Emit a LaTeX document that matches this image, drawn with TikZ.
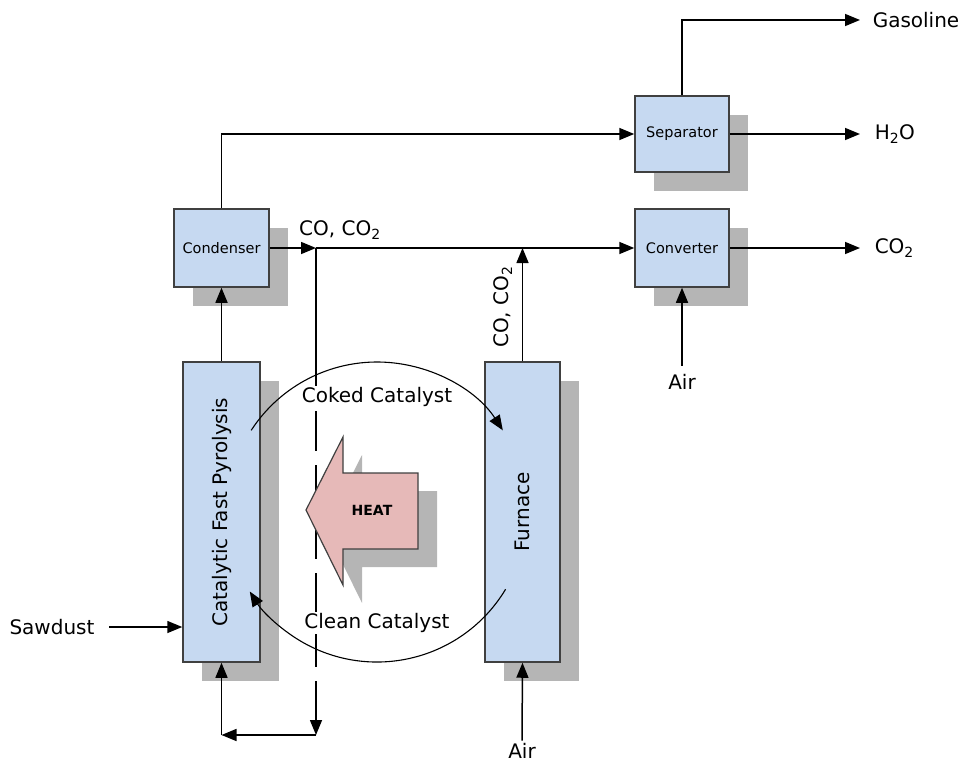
\documentclass[tikz,border=0pt]{standalone}
\usepackage{fontspec}
\usepackage{graphicx}
\setmainfont{DejaVu Sans}
\usetikzlibrary{arrows.meta, shadows}

\definecolor{boxblue}{HTML}{C6D9F1}
\definecolor{heatpink}{HTML}{E6B9B8}
\definecolor{shadowgray}{HTML}{B5B5B5}
\definecolor{edgegray}{HTML}{404040}

\begin{document}
\begin{tikzpicture}[x=1pt, y=-1pt, >={Triangle[length=15pt, width=12pt]},
    line width=1.5pt,
    unit/.style={draw=edgegray, fill=boxblue, line width=1.5pt, inner sep=0pt,
        font=\fontsize{14.5}{16}\selectfont,
        drop shadow={shadow xshift=19pt, shadow yshift=-19pt, fill=shadowgray, opacity=1}},
    lbl/.style={font=\fontsize{20}{24}\selectfont, inner sep=2pt},
    flow/.style={->, line width=1.5pt}]
    % ================= Parameters =================
    \def\R{150}        % Radius of the catalyst loop
    \def\Sh{19pt}      % Shadow offset

    % Canvas in pixel units (y grows downward)
    \path[use as bounding box] (0,0) rectangle (965,765);

    % ================= Units =================
    \node[unit, minimum width=95, minimum height=78] (cond) at (221.5,248) {Condenser};
    \node[unit, minimum width=77, minimum height=300, font=\fontsize{20}{24}\selectfont] (pyro) at (221.5,512) {\rotatebox{90}{Catalytic Fast Pyrolysis}};
    \node[unit, minimum width=75, minimum height=300, font=\fontsize{20}{24}\selectfont] (furn) at (522.5,512) {\rotatebox{90}{Furnace}};
    \node[unit, minimum width=94, minimum height=76] (sep) at (682,134) {Separator};
    \node[unit, minimum width=94, minimum height=78] (conv) at (682,248) {Converter};

    % ================= Streams in and out =================
    \node[lbl] (sawdust) at (52,627) {Sawdust};
    \node[lbl, anchor=west] (gas) at (870,20) {Gasoline};
    \node[lbl, anchor=west] (h2o) at (872,134) {H\textsubscript{2}O};
    \node[lbl, anchor=west] (co2) at (872,248) {CO\textsubscript{2}};
    \node[lbl] (airc) at (682,382) {Air};
    \node[lbl] (airf) at (522,751) {Air};

    % Key coordinates
    \coordinate (j1) at (316,248);
    \coordinate (dashtop) at (316,357);
    \coordinate (dashbot) at (316,684);
    \coordinate (jdown) at (316,735);
    \coordinate (jleft) at (221.5,735);
    \coordinate (ctr) at (377,512);

    % ================= Connectors =================
    \draw[flow] ([xshift=12pt]sawdust.east) -- (pyro.west |- sawdust);
    \draw[flow] (pyro.north) -- (cond.south);
    \draw[flow] (cond.north) |- (sep.west);
    \draw[flow] (cond.east) -- (j1);
    \draw[flow] (j1) -- (conv.west);
    \draw[flow] (furn.north) -- (furn.north |- j1);
    \draw[flow] (sep.north) |- ([xshift=-10pt]gas.west);
    \draw[flow] (sep.east) -- ([xshift=-12pt]h2o.west);
    \draw[flow] (conv.east) -- ([xshift=-12pt]co2.west);
    \draw[flow] ([yshift=6pt]airc.north) -- (conv.south);
    \draw[flow] (airf.north) -- (furn.south);

    % CO, CO2 recycle to the bottom of the reactor
    \draw (j1) -- (dashtop);
    \draw[dash pattern=on 40pt off 14pt] (dashtop) -- (dashbot);
    \draw[flow] (dashbot) -- (jdown);
    \draw[flow] (jdown) -- (jleft);
    \draw[flow] (jleft) -- (pyro.south);

    \node[lbl] (cotop) at (340,230) {CO, CO\textsubscript{2}};
    \node[lbl, rotate=90] (cofurn) at (503,307) {CO, CO\textsubscript{2}};

    % ================= Catalyst loop =================
    \draw[->, line width=1.1pt] ([shift={(-147:\R)}]ctr) arc[start angle=-147, end angle=-33, radius=\R];
    \draw[->, line width=1.1pt] ([shift={(31:\R)}]ctr) arc[start angle=31, end angle=148, radius=\R];
    \node[lbl, fill=white, inner sep=1pt] (coked) at (377,397) {Coked Catalyst};
    \node[lbl, fill=white, inner sep=1pt] (clean) at (377,623) {Clean Catalyst};

    % ================= Heat arrow =================
    \path[draw=edgegray, fill=heatpink, line width=1.2pt,
        drop shadow={shadow xshift=\Sh, shadow yshift=-18pt, fill=shadowgray, opacity=1}]
        (306,510) -- (343,437) -- (343,473) -- (418,473) -- (418,549) -- (343,549) -- (343,585) -- cycle;
    \node[font=\bfseries\fontsize{14}{16}\selectfont] (heat) at (372,510) {HEAT};

\end{tikzpicture}
\end{document}
